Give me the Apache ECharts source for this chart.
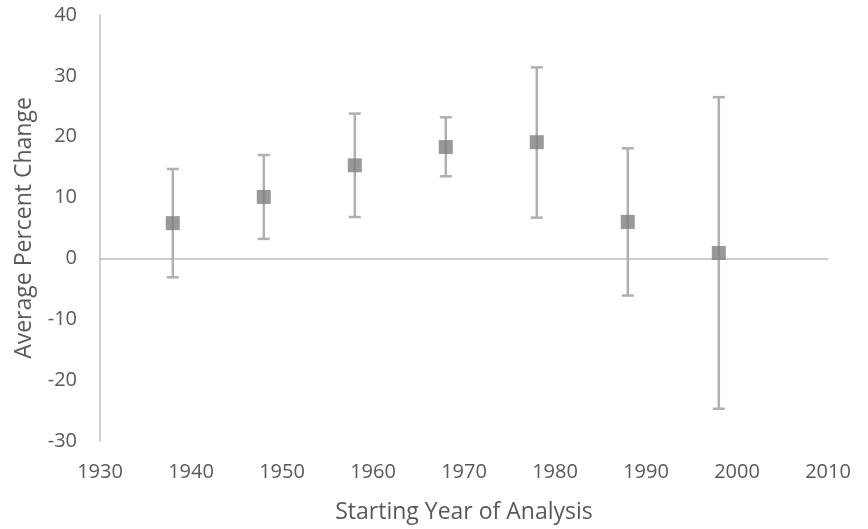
<!DOCTYPE html>
<html>
<head>
<meta charset="utf-8">
<script src="https://cdn.jsdelivr.net/npm/echarts@6/dist/echarts.min.js"></script>
<style>
  html, body { margin: 0; padding: 0; background: #fff; }
  #chart { width: 868px; height: 529px; }
</style>
</head>
<body>
<div id="chart"></div>
<script>
// Starting year of each analysis window
const startYears = [1938, 1948, 1958, 1968, 1978, 1988, 1998];
// Average percent change for each window
const meanChange = [5.8, 10.1, 15.3, 18.3, 19.1, 6.0, 0.9];
// Lower and upper ends of the error bars
const lowerBound = [-3.1, 3.2, 6.8, 13.5, 6.7, -6.1, -24.7];
const upperBound = [14.7, 17.0, 23.8, 23.2, 31.4, 18.1, 26.5];

const xMin = 1930, xMax = 2010, xStep = 10;
const yMin = -30, yMax = 40, yStep = 10;

const fontFamily = '"Open Sans", "Noto Sans", sans-serif';
const textColor = '#595959';
const axisColor = '#bfbfbf';

const pointData = startYears.map((yr, i) => [yr, meanChange[i]]);
const barData = startYears.map((yr, i) => [yr, lowerBound[i], upperBound[i]]);

const chart = echarts.init(document.getElementById('chart'), null, { renderer: 'canvas' });

chart.setOption({
  animation: false,
  backgroundColor: '#ffffff',
  grid: { left: 100, right: 40, top: 15, bottom: 87, containLabel: false },
  xAxis: [
    {
      // horizontal line through zero
      type: 'value', min: xMin, max: xMax, interval: xStep,
      axisLine: { show: true, onZero: true, lineStyle: { color: axisColor, width: 1.5 } },
      axisTick: { show: false },
      axisLabel: { show: false },
      splitLine: { show: false }
    },
    {
      // year labels along the bottom
      type: 'value', min: xMin, max: xMax, interval: xStep, position: 'bottom',
      axisLine: { show: false, onZero: false },
      axisTick: { show: false },
      splitLine: { show: false },
      axisLabel: { color: textColor, fontSize: 20, fontFamily, margin: 21,
                   showMinLabel: true, showMaxLabel: true,
                   formatter: v => String(v) },
      name: 'Starting Year of Analysis',
      nameLocation: 'middle', nameGap: 60,
      nameTextStyle: { color: textColor, fontSize: 23, fontFamily }
    }
  ],
  yAxis: {
    type: 'value', min: yMin, max: yMax, interval: yStep,
    axisLine: { show: true, onZero: false, lineStyle: { color: axisColor, width: 1.5 } },
    axisTick: { show: false },
    splitLine: { show: false },
    axisLabel: { color: textColor, fontSize: 20, fontFamily, margin: 23,
                 formatter: v => String(v) },
    name: 'Average Percent Change',
    nameLocation: 'middle', nameGap: 64,
    nameTextStyle: { color: textColor, fontSize: 23, fontFamily }
  },
  series: [
    {
      type: 'custom',
      xAxisIndex: 0,
      data: barData,
      z: 1,
      renderItem: function (params, api) {
        const x = api.value(0);
        const lo = api.coord([x, api.value(1)]);
        const hi = api.coord([x, api.value(2)]);
        const capHalf = 6;
        const style = { stroke: '#b0b0b0', lineWidth: 2.5 };
        return {
          type: 'group',
          children: [
            { type: 'line', shape: { x1: lo[0], y1: lo[1], x2: hi[0], y2: hi[1] }, style },
            { type: 'line', shape: { x1: hi[0] - capHalf, y1: hi[1], x2: hi[0] + capHalf, y2: hi[1] }, style },
            { type: 'line', shape: { x1: lo[0] - capHalf, y1: lo[1], x2: lo[0] + capHalf, y2: lo[1] }, style }
          ]
        };
      }
    },
    {
      type: 'scatter',
      xAxisIndex: 0,
      data: pointData,
      symbol: 'rect',
      symbolSize: 14,
      itemStyle: { color: '#7f7f7f' },
      z: 2
    }
  ]
});
</script>
</body>
</html>
